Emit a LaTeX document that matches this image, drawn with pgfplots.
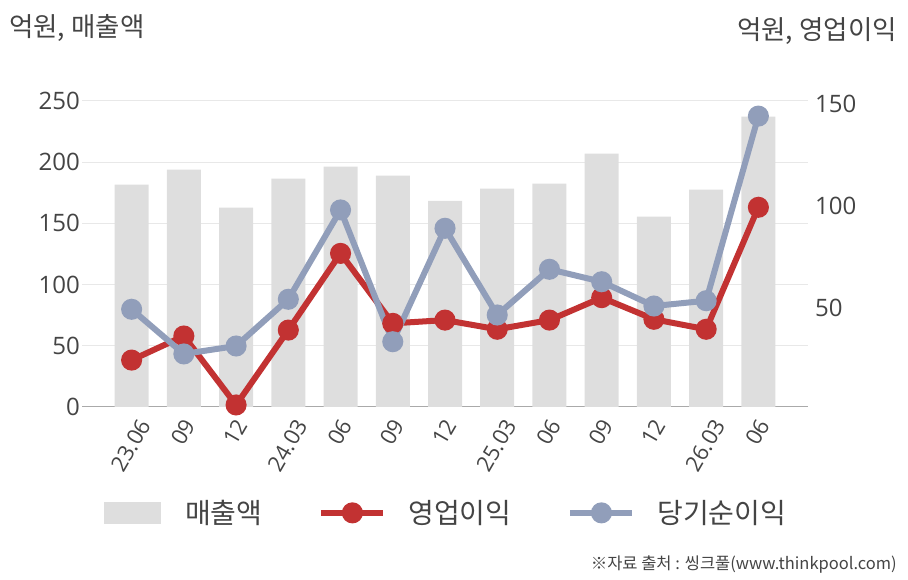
\documentclass[border=0pt]{standalone}
\usepackage{fontspec}
\setmainfont{Open Sans}
\newfontfamily\kr{Noto Sans CJK KR}
\usepackage{graphicx}
\usepackage{pgfplots}
\pgfplotsset{compat=1.18}
\definecolor{barcol}{RGB}{222,222,222}
\definecolor{redcol}{RGB}{194,50,50}
\definecolor{bluecol}{RGB}{145,158,186}
\definecolor{txt}{RGB}{68,68,68}
\definecolor{gridc}{RGB}{232,232,232}
\definecolor{axc}{RGB}{170,170,170}
\newcommand{\rl}[1]{\rotatebox{60}{#1}}
\begin{document}
\begin{tikzpicture}
\path[use as bounding box] (0,0) rectangle (908bp,580bp);
\begin{axis}[
  at={(82bp,173bp)}, anchor=south west,
  scale only axis, width=726bp, height=306bp,
  xmin=-0.95, xmax=12.95, ymin=0, ymax=250,
  axis x line*=bottom, axis y line*=left,
  x axis line style={draw=axc, line width=1bp},
  y axis line style={draw=none},
  major tick length=0pt,
  ytick={0,50,100,150,200,250},
  ymajorgrids, major grid style={draw=gridc, line width=1bp},
  xtick={0,...,12},
  xticklabels={\rl{23.06},\rl{09},\rl{12},\rl{24.03},\rl{06},\rl{09},\rl{12},\rl{25.03},\rl{06},\rl{09},\rl{12},\rl{26.03},\rl{06}},
  xticklabel style={anchor=north, yshift=-10bp, xshift=-1bp, font=\fontsize{22bp}{26bp}\selectfont, text=txt, inner sep=0pt},
  yticklabel style={anchor=east, font=\fontsize{24bp}{28bp}\selectfont, text=txt, inner sep=0pt, xshift=-2bp},
  /pgf/number format/assume math mode=true,
]
\addplot[ybar, bar width=34bp, fill=barcol, draw=none] coordinates {
(0,181.6) (1,193.9) (2,162.8) (3,186.6) (4,196.3) (5,189.0) (6,168.5)
(7,178.5) (8,182.5) (9,207.0) (10,155.6) (11,177.6) (12,237.2)};
\end{axis}
\begin{axis}[
  at={(82bp,173bp)}, anchor=south west,
  scale only axis, width=726bp, height=306bp,
  xmin=-0.95, xmax=12.95, ymin=0, ymax=150,
  axis x line=none, axis y line*=right,
  y axis line style={draw=none},
  major tick length=0pt,
  ytick={50,100,150},
  yticklabel style={anchor=west, font=\fontsize{24bp}{28bp}\selectfont, text=txt, inner sep=0pt, xshift=7bp, yshift=-2.5bp},
  /pgf/number format/assume math mode=true,
  legend columns=3,
  legend style={at={(0.5,-0.346)}, anchor=center, draw=none, fill=none,
    font=\kr\fontsize{28bp}{32bp}\selectfont, text=txt,
    /tikz/every even column/.append style={column sep=56bp},
    nodes={inner sep=0pt}},
  legend cell align=left,
]
\addlegendimage{legend image code/.code={\fill[barcol] (0bp,-10.5bp) rectangle (56bp,10.5bp);}}
\addlegendentry{\hspace{25bp}매출액}
\addplot[redcol, line width=6bp, mark=*, mark size=7.5bp, mark options={solid, draw=none, fill=redcol},
  legend image code/.code={\draw[mark repeat=2,mark phase=2] plot coordinates {(0bp,0bp) (31bp,0bp) (62bp,0bp)};}] coordinates {
(0,23.0) (1,34.8) (2,1.0) (3,37.7) (4,75.3) (5,41.0) (6,42.6)
(7,38.1) (8,42.6) (9,53.6) (10,43.0) (11,38.1) (12,97.9)};
\addlegendentry{\hspace{22bp}영업이익}
\addplot[bluecol, line width=6bp, mark=*, mark size=7.5bp, mark options={solid, draw=none, fill=bluecol},
  legend image code/.code={\draw[mark repeat=2,mark phase=2] plot coordinates {(0bp,0bp) (31bp,0bp) (62bp,0bp)};}] coordinates {
(0,47.9) (1,26.0) (2,29.9) (3,52.8) (4,96.6) (5,32.0) (6,87.6)
(7,45.1) (8,67.5) (9,61.4) (10,49.5) (11,52.1) (12,142.6)};
\addlegendentry{\hspace{22bp}당기순이익}
\end{axis}
\node[anchor=west, inner sep=0pt, text=txt, font=\kr\fontsize{26.5bp}{30bp}\selectfont] at (9bp,552bp) {억원, 매출액};
\node[anchor=east, inner sep=0pt, text=txt, font=\kr\fontsize{26.5bp}{30bp}\selectfont] at (897bp,549bp) {억원, 영업이익};
\node[anchor=east, inner sep=0pt, text=txt, font=\kr\fontsize{16.5bp}{20bp}\selectfont] at (897bp,15bp) {※자료 출처 : 씽크풀(www.thinkpool.com)};
\end{tikzpicture}
\end{document}
